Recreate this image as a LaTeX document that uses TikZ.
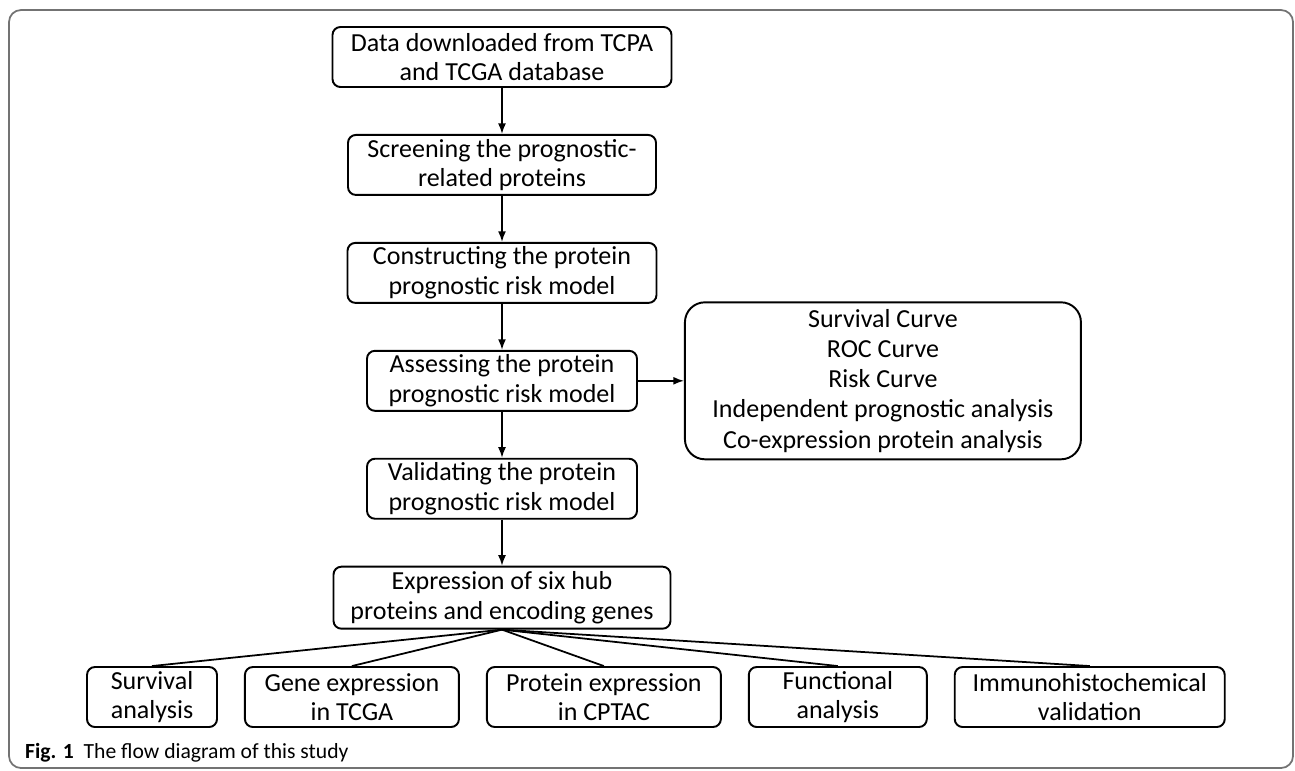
\documentclass[tikz,border=0pt]{standalone}
\usepackage{fontspec}
\setmainfont{Carlito}
\usetikzlibrary{arrows.meta, positioning}
\tikzset{
  flowblock/.style={
    rectangle,
    rounded corners=4.5pt,
    minimum height=1.2cm,
    inner sep=2pt,
    align = center,
    draw=black,
    line width = 1.1pt,
    font=\fontsize{14.8}{16.8}\selectfont,
  },
  listblock/.style={
    rectangle,
    rounded corners=0.4cm,
    minimum width=7.92cm,
    minimum height=3.14cm,
    align = center,
    draw=black,
    line width = 1.1pt,
    font=\fontsize{14.8}{17.2}\selectfont,
  },
  arrow/.style={
    line width = 0.9pt,
    -{Latex[length=6pt,width=4.5pt]},
    draw=black,
    },
  branch/.style={
    line width = 1pt,
    draw=black,
    },
  frame/.style={
    rounded corners=0.24cm,
    line width = 1pt,
    draw=black!55,
    },
}

\begin{document}
\begin{tikzpicture}
    \useasboundingbox (0,0) rectangle (25.9,-15.4);
    \draw [frame] (0.18,-0.2) rectangle (25.86,-15.36);
    % main column
    \node (data) [flowblock, minimum width=6.78cm] at (10.04,-1.14) {Data downloaded from TCPA\\and TCGA database};
    \node (screen) [flowblock, minimum width=6.16cm, below = 0.92cm of data] {Screening the prognostic-\\related proteins};
    \node (construct) [flowblock, minimum width=6.18cm, below = 0.92cm of screen] {Constructing the protein\\prognostic risk model};
    \node (assess) [flowblock, minimum width=5.4cm, below = 0.92cm of construct] {Assessing the protein\\prognostic risk model};
    \node (valid) [flowblock, minimum width=5.4cm, below = 0.92cm of assess] {Validating the protein\\prognostic risk model};
    \node (express) [flowblock, minimum width=6.74cm, minimum height=1.24cm, below = 0.92cm of valid] {Expression of six hub\\proteins and encoding genes};
    \node (curves) [listblock, right = 0.92cm of assess] {Survival Curve\\ROC Curve\\Risk Curve\\Independent prognostic analysis\\Co-expression protein analysis};
    % bottom row
    \node (surv) [flowblock, minimum width=2.6cm] at (3.04,-13.94) {Survival\\analysis};
    \node (gene) [flowblock, minimum width=4.28cm, right = 0.52cm of surv] {Gene expression\\in TCGA};
    \node (prot) [flowblock, minimum width=4.68cm, right = 0.52cm of gene] {Protein expression\\in CPTAC};
    \node (func) [flowblock, minimum width=3.56cm, right = 0.52cm of prot] {Functional\\analysis};
    \node (immuno) [flowblock, minimum width=5.4cm, right = 0.52cm of func] {Immunohistochemical\\validation};
    \node (caption) [anchor=base west, font=\fontsize{12.3}{14}\selectfont] at (0.38,-15.16) {\textbf{Fig. 1}\hspace{0.45em}The flow diagram of this study};
    \draw [arrow] (data) -- (screen);
    \draw [arrow] (screen) -- (construct);
    \draw [arrow] (construct) -- (assess);
    \draw [arrow] (assess) -- (valid);
    \draw [arrow] (valid) -- (express);
    \draw [arrow] (assess.east) -- (assess.east -| curves.west);
    \draw [branch] (express.south) -- (surv.north);
    \draw [branch] (express.south) -- (gene.north);
    \draw [branch] (express.south) -- (prot.north);
    \draw [branch] (express.south) -- (func.north);
    \draw [branch] (express.south) -- (immuno.north);
\end{tikzpicture}
\end{document}
